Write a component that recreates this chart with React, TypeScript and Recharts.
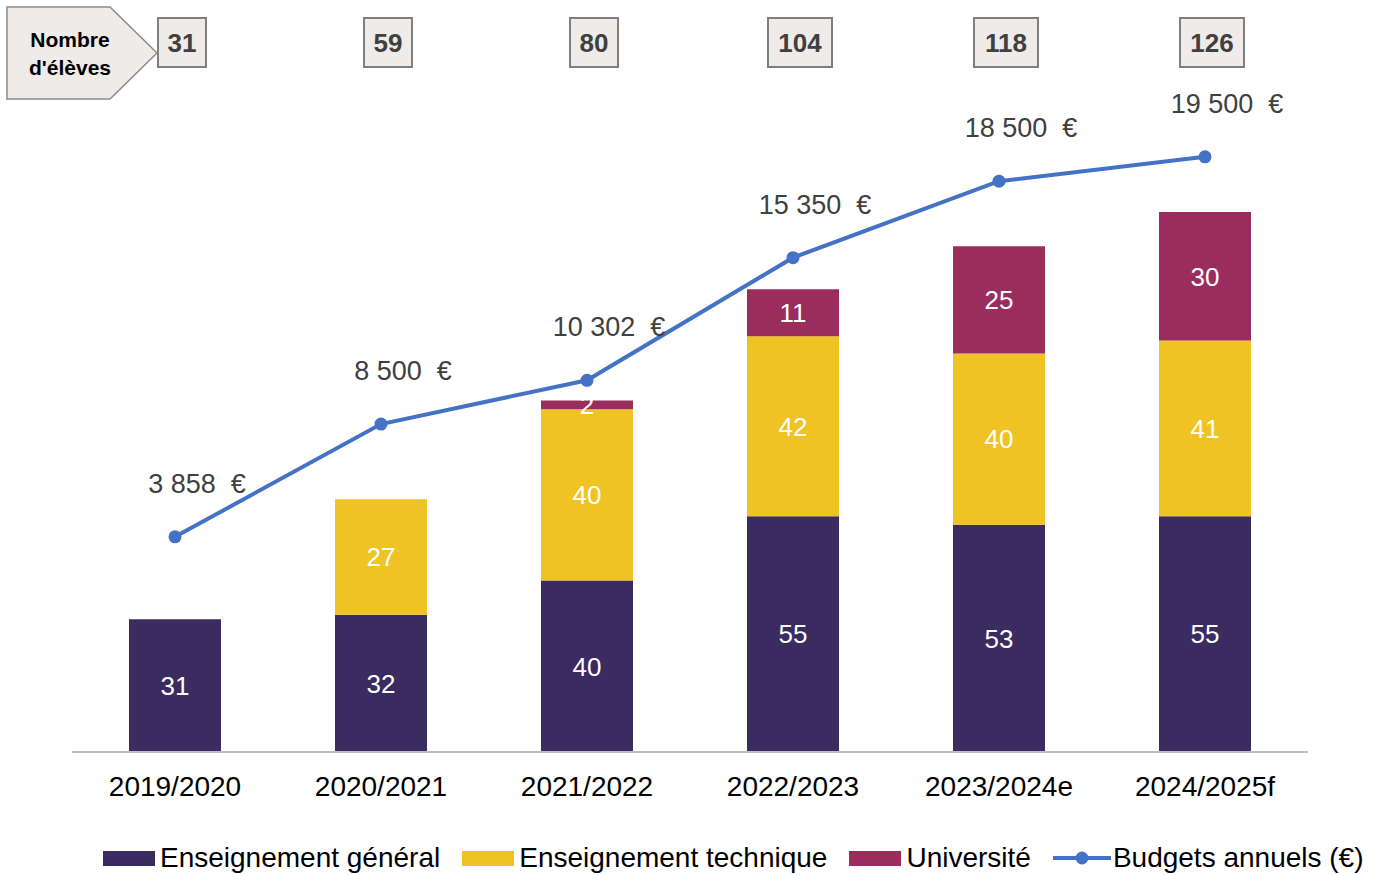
import React from "react"
import { ComposedChart, Bar, Line, XAxis, YAxis, LabelList, Legend } from "recharts"

const categories = ["2019/2020", "2020/2021", "2021/2022", "2022/2023", "2023/2024e", "2024/2025f"]
const general = [31, 32, 40, 55, 53, 55]
const technique = [0, 27, 40, 42, 40, 41]
const universite = [0, 0, 2, 11, 25, 30]
const eleves = [31, 59, 80, 104, 118, 126]
const budgets = [3858, 8500, 10302, 15350, 18500, 19500]

const FONT = "'Liberation Sans', Arial, sans-serif"
const PURPLE = "#3a2b60"
const YELLOW = "#f0c325"
const MAGENTA = "#9b2c5e"
const BLUE = "#4472c4"

const data = categories.map((c, i) => ({
  cat: c,
  general: general[i],
  technique: technique[i],
  universite: universite[i],
  eleves: eleves[i],
  budget: budgets[i],
}))

const fmtEuro = (v: number) => {
  const k = Math.floor(v / 1000)
  const r = String(v % 1000).padStart(3, "0")
  return `${k}\u00a0${r}\u00a0\u00a0€`
}

const hideZero = (v: any) => (v ? v : "")

const BudgetLabel = (props: any) => {
  const { x, y, value } = props
  return (
    <text x={x + 22} y={y - 44} textAnchor="middle" fill="#404040" fontSize={27} fontFamily={FONT}>
      {fmtEuro(value)}
    </text>
  )
}

const EleveBox = (props: any) => {
  const { x, value } = props
  const w = String(value).length > 2 ? 64 : 48
  const cx = x + 7
  return (
    <g>
      <rect x={cx - w / 2} y={18} width={w} height={49} fill="#efebe8" stroke="#7f7f7f" strokeWidth={2} />
      <text x={cx} y={52} textAnchor="middle" fill="#404040" fontSize={26} fontWeight="bold" fontFamily={FONT}>
        {value}
      </text>
    </g>
  )
}

const LegendContent = () => {
  const items = [
    { label: "Enseignement général", color: PURPLE, line: false },
    { label: "Enseignement technique", color: YELLOW, line: false },
    { label: "Université", color: MAGENTA, line: false },
    { label: "Budgets annuels (€)", color: BLUE, line: true },
  ]
  return (
    <div
      style={{
        display: "flex",
        alignItems: "center",
        height: 40,
        paddingLeft: 103,
        fontFamily: FONT,
        fontSize: 28,
        color: "#000",
        whiteSpace: "nowrap",
        width: 1375,
        boxSizing: "border-box",
      }}
    >
      {items.map((it) => (
        <div key={it.label} style={{ display: "flex", alignItems: "center", marginRight: 22, flexShrink: 0 }}>
          {it.line ? (
            <svg width={58} height={16} style={{ marginRight: 2, flexShrink: 0 }}>
              <line x1={0} y1={8} x2={58} y2={8} stroke={it.color} strokeWidth={4} />
              <circle cx={29} cy={8} r={6.5} fill={it.color} />
            </svg>
          ) : (
            <div style={{ width: 52, height: 15, background: it.color, marginRight: 5, flexShrink: 0 }} />
          )}
          <span>{it.label}</span>
        </div>
      ))}
    </div>
  )
}

export default function App() {
  return (
    <div style={{ position: "absolute", left: 0, top: 0, width: 1375, height: 875, background: "#fff" }}>
      <svg width={170} height={110} style={{ position: "absolute", left: 0, top: 0, zIndex: 2 }}>
        <polygon points="7,7 110,7 157,53 110,99 7,99" fill="#efebe8" stroke="#8c8c8c" strokeWidth={1.5} />
        <text x={70} y={47} textAnchor="middle" fontSize={21} fontWeight="bold" fontFamily={FONT} fill="#000">
          Nombre
        </text>
        <text x={70} y={75} textAnchor="middle" fontSize={21} fontWeight="bold" fontFamily={FONT} fill="#000">
          d'élèves
        </text>
      </svg>
      <ComposedChart width={1375} height={875} data={data} margin={{ top: 152, right: 67, left: 72, bottom: 33 }}>
        <XAxis
          dataKey="cat"
          height={50}
          tickLine={false}
          axisLine={{ stroke: "#bfbfbf", strokeWidth: 2 }}
          tick={{ fill: "#000", fontSize: 28, fontFamily: FONT }}
          tickMargin={18}
        />
        <YAxis yAxisId="left" hide domain={[0, 140]} />
        <YAxis yAxisId="right" hide domain={[-5000, 19700]} />
        <Legend
          content={<LegendContent />}
          verticalAlign="bottom"
          wrapperStyle={{ top: 838, left: 0, width: 1375, height: 40 }}
        />
        <Bar yAxisId="left" dataKey="general" stackId="a" fill={PURPLE} barSize={92} isAnimationActive={false}>
          <LabelList dataKey="general" position="center" fill="#fff" fontSize={26} fontFamily={FONT} formatter={hideZero} />
        </Bar>
        <Bar yAxisId="left" dataKey="technique" stackId="a" fill={YELLOW} barSize={92} isAnimationActive={false}>
          <LabelList dataKey="technique" position="center" fill="#fff" fontSize={26} fontFamily={FONT} formatter={hideZero} />
        </Bar>
        <Bar yAxisId="left" dataKey="universite" stackId="a" fill={MAGENTA} barSize={92} isAnimationActive={false}>
          <LabelList dataKey="universite" position="center" fill="#fff" fontSize={26} fontFamily={FONT} formatter={hideZero} />
        </Bar>
        <Line
          yAxisId="right"
          dataKey="budget"
          stroke={BLUE}
          strokeWidth={4}
          dot={{ r: 6.5, fill: BLUE, stroke: BLUE, strokeWidth: 0 }}
          isAnimationActive={false}
        >
          <LabelList dataKey="budget" content={<BudgetLabel />} />
        </Line>
        <Line
          yAxisId="left"
          dataKey="eleves"
          stroke="none"
          dot={false}
          activeDot={false}
          legendType="none"
          isAnimationActive={false}
        >
          <LabelList dataKey="eleves" content={<EleveBox />} />
        </Line>
      </ComposedChart>
    </div>
  )
}
